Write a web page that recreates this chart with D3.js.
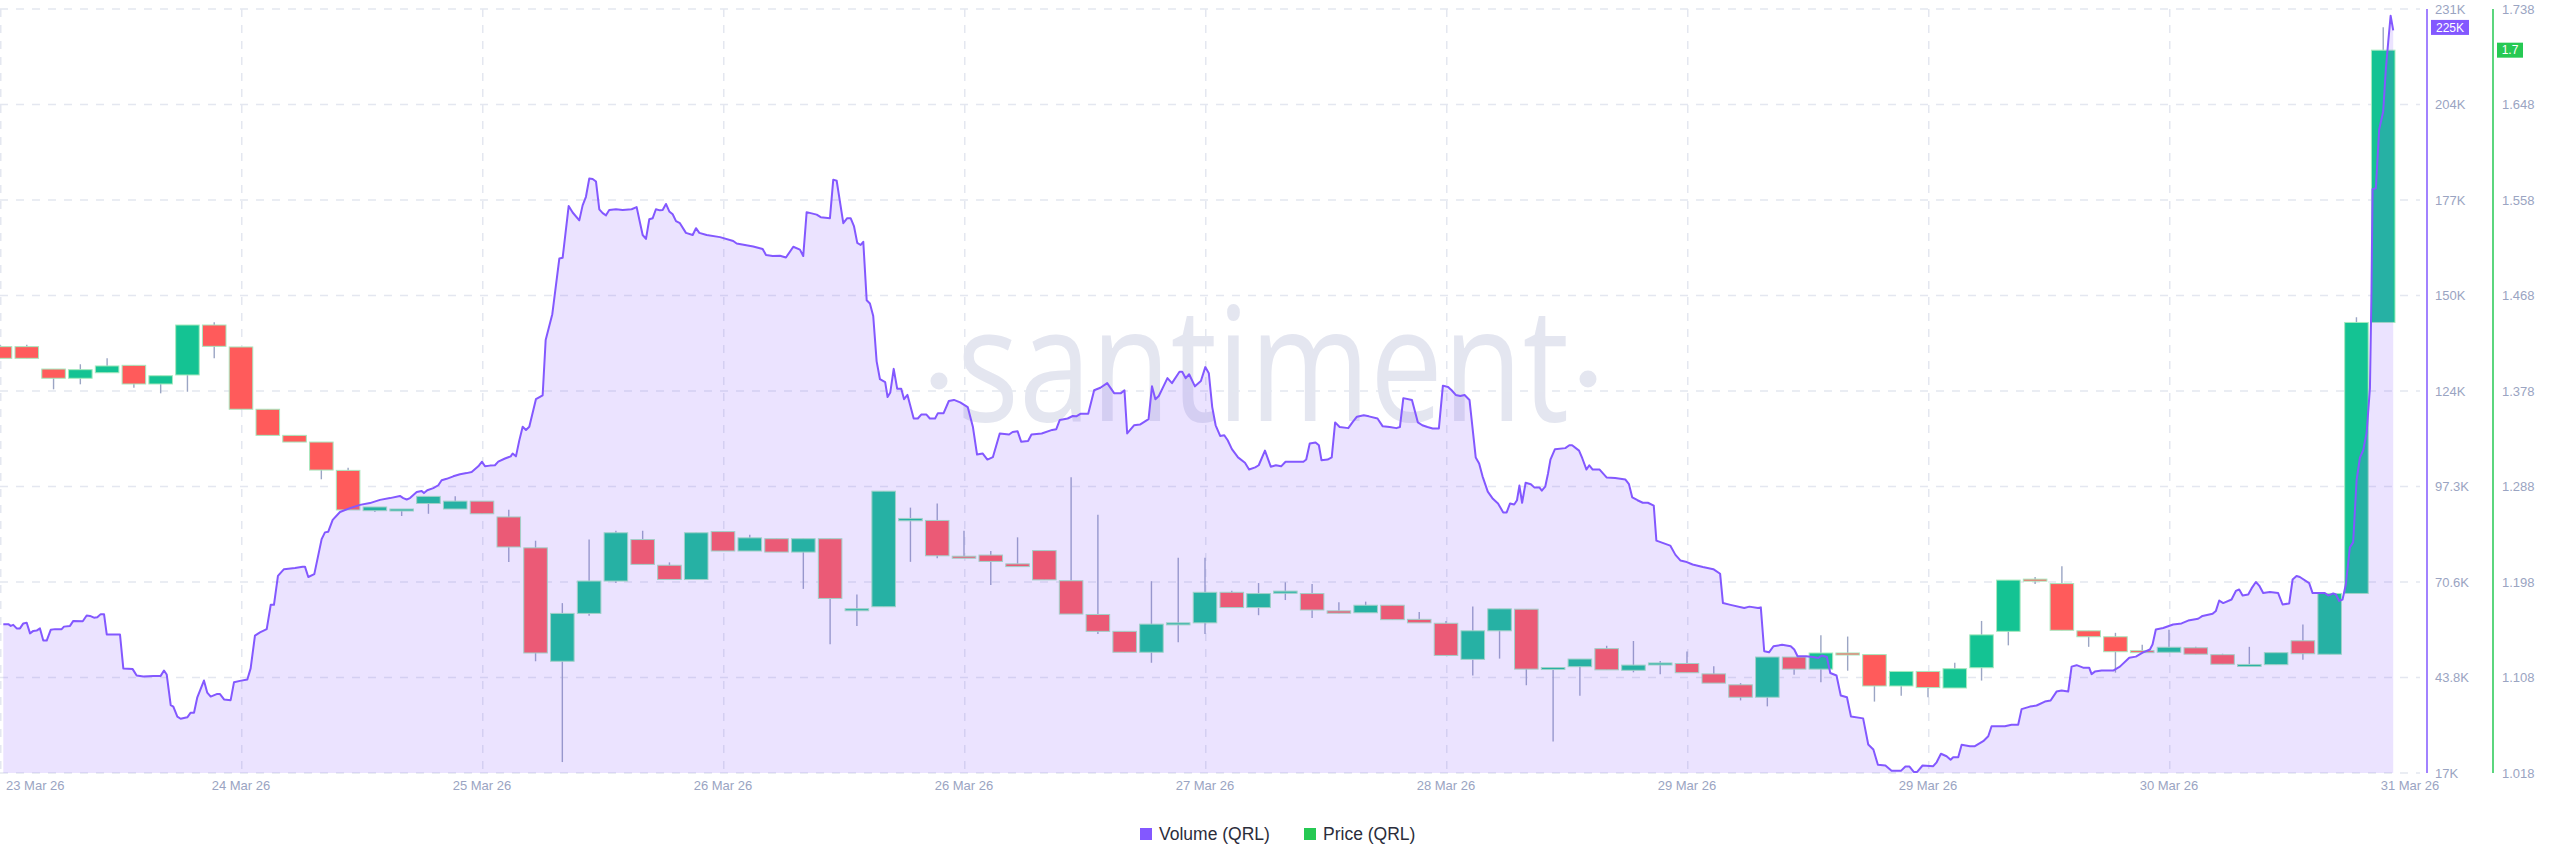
<!DOCTYPE html>
<html>
<head>
<meta charset="utf-8">
<script src="https://cdn.jsdelivr.net/npm/d3@7"></script>
<style>
  html, body { margin: 0; padding: 0; background: #fff; }
  svg { display: block; }
</style>
</head>
<body>
<svg id="chart" width="2560" height="867"></svg>
<script>
// x-axis day labels, as printed on the chart (one per 24h from 23 Mar 00:00)
const dayLabels = ['23 Mar 26', '24 Mar 26', '25 Mar 26', '26 Mar 26', '26 Mar 26', '27 Mar 26',
  '28 Mar 26', '29 Mar 26', '29 Mar 26', '30 Mar 26', '31 Mar 26'];

// y ticks
const volumeTickLabels = ['17K', '43.8K', '70.6K', '97.3K', '124K', '150K', '177K', '204K', '231K'];
const priceTickLabels = ['1.018', '1.108', '1.198', '1.288', '1.378', '1.468', '1.558', '1.648', '1.738'];

// price candles (QRL), one every 160 minutes
const candleStepHours = 8 / 3;
const candleOpen = [
  1.4198, 1.4198, 1.3987, 1.3900, 1.3952, 1.4022, 1.3846, 1.3931, 1.4402, 1.4195,
  1.3608, 1.3362, 1.3299, 1.3032, 1.2652, 1.2652, 1.2720, 1.2668, 1.2742, 1.2593,
  1.2302, 1.1233, 1.1684, 1.1989, 1.2380, 1.2138, 1.2004, 1.2455, 1.2272, 1.2388,
  1.2262, 1.2388, 1.1710, 1.1747, 1.2557, 1.2560, 1.2223, 1.2234, 1.2151, 1.2276,
  1.1992, 1.1674, 1.1515, 1.1318, 1.1583, 1.1595, 1.1883, 1.1739, 1.1874, 1.1871,
  1.1708, 1.1690, 1.1761, 1.1628, 1.1591, 1.1251, 1.1520, 1.1724, 1.1159, 1.1182,
  1.1352, 1.1148, 1.1201, 1.1212, 1.1114, 1.1011, 1.0894, 1.1273, 1.1159, 1.1311,
  1.1296, 1.1000, 1.1137, 1.0981, 1.1172, 1.1515, 1.2007, 1.1965, 1.1520, 1.1464,
  1.1333, 1.1318, 1.1360, 1.1295, 1.1203, 1.1201, 1.1426, 1.1299, 1.1872, 1.4426
];
const candleHigh = [
  1.4215, 1.4215, 1.3987, 1.4032, 1.4088, 1.4022, 1.3924, 1.4402, 1.4427, 1.4195,
  1.3608, 1.3362, 1.3299, 1.3057, 1.2687, 1.2668, 1.2787, 1.2787, 1.2742, 1.2660,
  1.2369, 1.1781, 1.2380, 1.2463, 1.2463, 1.2165, 1.2444, 1.2455, 1.2426, 1.2388,
  1.2388, 1.2388, 1.1863, 1.2836, 1.2681, 1.2719, 1.2462, 1.2272, 1.2401, 1.2276,
  1.2966, 1.2613, 1.1515, 1.1988, 1.2208, 1.2208, 1.1898, 1.1970, 1.1977, 1.1962,
  1.1788, 1.1795, 1.1761, 1.1697, 1.1613, 1.1750, 1.1727, 1.1724, 1.1178, 1.1254,
  1.1379, 1.1424, 1.1235, 1.1326, 1.1186, 1.1027, 1.1273, 1.1273, 1.1478, 1.1466,
  1.1296, 1.1137, 1.1137, 1.1219, 1.1613, 1.1998, 1.2027, 1.2129, 1.1520, 1.1501,
  1.1388, 1.1529, 1.1369, 1.1304, 1.1369, 1.1314, 1.1580, 1.1872, 1.4474, 1.7207
];
const candleLow = [
  1.4088, 1.4088, 1.3796, 1.3843, 1.3952, 1.3811, 1.3758, 1.3773, 1.4088, 1.3608,
  1.3362, 1.3299, 1.2948, 1.2659, 1.2640, 1.2602, 1.2623, 1.2668, 1.2623, 1.2168,
  1.1233, 1.0283, 1.1661, 1.1971, 1.2146, 1.2004, 1.2004, 1.2272, 1.2272, 1.2262,
  1.1915, 1.1393, 1.1565, 1.1747, 1.2170, 1.2204, 1.2212, 1.1951, 1.2125, 1.2000,
  1.1678, 1.1489, 1.1318, 1.1219, 1.1413, 1.1489, 1.1739, 1.1667, 1.1810, 1.1641,
  1.1686, 1.1690, 1.1625, 1.1595, 1.1288, 1.1099, 1.1258, 1.1007, 1.0478, 1.0909,
  1.1152, 1.1129, 1.1110, 1.1125, 1.1027, 1.0864, 1.0808, 1.1106, 1.1035, 1.1144,
  1.0853, 1.0909, 1.0894, 1.0981, 1.1051, 1.1383, 1.1960, 1.1525, 1.1369, 1.1126,
  1.1318, 1.1318, 1.1300, 1.1205, 1.1200, 1.1201, 1.1248, 1.1299, 1.1872, 1.4426
];
const candleClose = [
  1.4088, 1.4088, 1.3900, 1.3981, 1.4016, 1.3846, 1.3924, 1.4402, 1.4201, 1.3608,
  1.3362, 1.3299, 1.3035, 1.2659, 1.2687, 1.2668, 1.2787, 1.2742, 1.2623, 1.2310,
  1.1311, 1.1684, 1.1989, 1.2444, 1.2146, 1.2004, 1.2444, 1.2272, 1.2396, 1.2262,
  1.2388, 1.1825, 1.1728, 1.2836, 1.2579, 1.2227, 1.2212, 1.2174, 1.2125, 1.2000,
  1.1678, 1.1515, 1.1318, 1.1583, 1.1595, 1.1883, 1.1739, 1.1871, 1.1894, 1.1716,
  1.1686, 1.1761, 1.1625, 1.1595, 1.1288, 1.1520, 1.1727, 1.1159, 1.1174, 1.1254,
  1.1152, 1.1197, 1.1217, 1.1125, 1.1027, 1.0894, 1.1273, 1.1159, 1.1311, 1.1296,
  1.1000, 1.1137, 1.0985, 1.1163, 1.1482, 1.1998, 1.1989, 1.1525, 1.1464, 1.1323,
  1.1318, 1.1365, 1.1300, 1.1205, 1.1203, 1.1314, 1.1304, 1.1872, 1.4426, 1.6992
];

// volume (QRL), hours since 23 Mar 00:00 and value in thousands
const volumeHours = [
  0.33, 0.83, 1.07, 1.32, 1.66, 1.99, 2.32, 2.66, 2.99, 3.32, 3.65, 3.98, 4.31, 4.65, 5.05, 5.48,
  6.14, 6.37, 6.97, 7.30, 8.24, 8.63, 8.96, 9.36, 9.69, 10.03, 10.36, 10.63, 11.95, 12.28, 13.21, 13.61,
  14.27, 15.27, 16.00, 16.33, 16.60, 17.00, 17.26, 17.66, 17.99, 18.65, 18.99, 19.32, 19.65, 20.31, 20.64, 20.98,
  21.58, 21.91, 22.31, 22.97, 23.30, 23.90, 24.63, 24.96, 25.39, 25.89, 26.56, 26.96, 27.28, 27.68, 28.28, 29.38,
  30.14, 30.37, 30.70, 31.30, 32.03, 32.36, 32.69, 33.13, 33.86, 34.85, 35.85, 36.84, 37.84, 38.84,
  39.83, 40.16, 40.50, 40.83, 41.50, 41.99, 42.22, 42.55, 43.15, 43.65, 43.98, 44.48, 45.14, 45.81, 46.47, 46.97,
  47.63, 48.00, 48.30, 48.79, 49.29, 49.62, 50.29, 50.86, 51.05, 51.38, 51.71, 52.05, 52.38, 52.71, 53.37, 54.04,
  54.34, 55.00, 55.70, 56.03, 56.63, 57.03, 57.69, 58.02, 58.35, 58.68, 59.02, 59.35, 59.68, 60.02, 60.35, 60.67,
  61.34, 62.01, 62.90, 63.40, 63.66, 64.00, 64.33, 64.66, 65.00, 65.32, 65.72, 65.99, 66.32, 66.65, 66.99, 67.32,
  67.71, 68.31, 68.98, 69.31, 69.64, 70.37, 71.70, 73.02, 73.36, 75.01, 75.95, 76.28, 76.95, 77.67, 78.27, 79.00,
  79.66, 79.99, 80.33, 81.33, 81.73, 82.65, 82.98, 83.32, 83.98, 84.37, 84.71, 85.04, 85.37, 85.71, 85.97, 86.31,
  86.63, 86.96, 87.30, 87.63, 88.15, 88.39, 88.66, 89.00, 89.35, 89.75, 90.03, 90.37, 90.99, 91.40, 91.74, 92.26,
  92.60, 93.12, 93.40, 93.97, 94.49, 95.00, 95.62, 96.37, 96.89, 97.30, 97.85, 98.33, 98.88, 99.56, 100.49, 100.84,
  101.34, 101.69, 102.38, 102.72, 103.74, 104.78, 105.19, 105.54, 106.32, 106.83, 107.18, 107.59, 108.37, 108.96, 109.58, 110.26,
  110.95, 111.63, 111.98, 112.25, 112.93, 113.52, 114.38, 114.72, 115.06, 115.40, 116.26, 116.71, 117.46, 117.73, 118.08, 118.42,
  119.00, 119.59, 120.03, 120.38, 120.72, 121.06, 121.51, 121.92, 122.26, 122.68, 123.29, 123.98, 124.39, 125.00, 125.35, 125.97,
  126.55, 127.06, 127.58, 128.02, 128.78, 129.80, 130.08, 130.43, 131.01, 131.34, 131.60, 132.21, 132.62, 132.96, 133.41, 134.27,
  134.68, 135.13, 135.81, 136.32, 137.18, 137.70, 138.39, 139.06, 139.41, 139.75, 140.61, 141.20, 141.64, 142.15, 142.67, 143.29,
  143.69, 144.21, 144.56, 144.97, 145.42, 145.85, 146.34, 146.96, 147.30, 147.64, 148.16, 148.67, 149.18, 149.70, 150.04, 150.38,
  150.79, 151.07, 151.31, 151.58, 151.93, 152.45, 152.79, 153.30, 153.54, 153.88, 154.16, 154.40, 154.85, 155.88, 156.28, 156.56,
  157.25, 157.58, 157.99, 158.27, 158.61, 159.30, 159.99, 160.84, 161.87, 162.22, 162.55, 163.07, 163.59, 164.10, 164.69, 164.95,
  165.64, 166.33, 166.85, 167.36, 167.87, 168.56, 169.58, 170.62, 171.30, 171.58, 172.33, 173.70, 174.21, 175.07, 175.35, 175.69,
  176.17, 176.61, 177.47, 178.33, 178.68, 179.01, 179.87, 180.56, 181.07, 181.41, 181.93, 182.27, 182.89, 183.31, 183.93, 184.33,
  185.54, 186.05, 186.56, 187.01, 187.76, 188.37, 189.30, 189.75, 190.16, 190.58, 190.92, 191.46, 192.52, 192.86, 193.29, 193.85,
  194.25, 194.51, 195.01, 195.35, 196.17, 196.67, 197.50, 198.00, 198.33, 199.66, 200.32, 200.98, 201.32, 202.15, 202.81, 203.64,
  204.21, 204.80, 205.30, 205.96, 206.30, 206.80, 207.45, 208.05, 208.29, 208.62, 209.29, 210.44, 211.11, 212.04, 212.70, 213.37,
  214.10, 214.36, 214.69, 215.42, 216.41, 217.25, 217.91, 218.90, 219.34, 220.34, 220.67, 221.00, 221.40, 222.23, 222.66, 222.99,
  223.33, 223.89, 224.22, 224.65, 224.98, 225.38, 226.05, 226.87, 227.31, 227.97, 228.31, 228.70, 229.03, 229.96, 230.30, 231.52,
  231.86, 232.35, 232.62, 232.95, 233.28, 233.61, 234.01, 234.34, 234.68, 235.01, 235.34, 235.68, 236.01, 236.17, 236.27, 236.60,
  236.93, 237.33, 237.59, 237.83, 238.07, 238.33
];
const volumeK = [
  58.7, 58.7, 58.2, 58.5, 57.5, 57.5, 58.9, 59.1, 56.1, 56.8, 56.9, 57.5, 54.1, 54.1, 57.1, 57.3,
  57.3, 58.0, 58.2, 59.6, 59.5, 61.1, 61.0, 60.5, 60.6, 61.5, 61.5, 55.8, 55.8, 46.3, 46.1, 44.3,
  44.0, 44.2, 44.2, 45.7, 44.6, 36.0, 35.6, 32.8, 32.2, 32.6, 33.9, 33.9, 38.2, 42.9, 39.5, 38.4,
  39.1, 39.1, 37.6, 37.4, 42.4, 42.8, 43.2, 46.3, 55.5, 56.4, 57.3, 64.1, 64.1, 72.2, 74.1, 74.4,
  74.8, 74.8, 71.9, 72.7, 82.5, 84.4, 84.6, 87.9, 90.1, 91.2, 92.1, 92.6, 93.5, 94.0,
  94.6, 94.0, 93.6, 94.0, 95.7, 96.0, 95.4, 96.2, 96.8, 97.6, 99.0, 99.4, 100.1, 100.7, 101.0, 101.3,
  102.9, 104.2, 102.9, 103.1, 103.2, 104.2, 105.1, 105.7, 106.5, 105.7, 110.1, 114.0, 113.1, 114.0, 121.7, 122.8,
  138.3, 145.5, 161.1, 161.3, 175.8, 174.0, 171.8, 176.0, 178.4, 183.5, 183.4, 182.7, 174.9, 173.8, 173.2, 174.7,
  174.9, 174.7, 174.9, 175.5, 172.1, 167.7, 166.6, 172.1, 172.4, 174.9, 174.6, 174.7, 176.4, 174.3, 173.5, 171.6,
  171.0, 168.3, 167.7, 169.6, 168.3, 167.7, 167.1, 166.0, 165.3, 164.5, 163.8, 162.1, 161.8, 161.9, 161.4, 164.4,
  163.6, 161.8, 174.1, 173.4, 172.7, 172.4, 183.2, 182.9, 171.0, 172.4, 172.4, 170.2, 165.5, 164.9, 165.8, 149.4,
  148.5, 145.0, 132.3, 127.3, 126.5, 122.3, 123.6, 130.2, 124.6, 124.6, 121.7, 122.9, 116.3, 116.3, 117.4, 117.4,
  116.3, 116.3, 117.8, 117.8, 121.2, 121.5, 120.8, 119.5, 113.9, 106.2, 106.5, 104.8, 105.5, 112.1, 111.8, 112.5,
  112.7, 109.8, 110.0, 111.8, 112.1, 113.1, 113.3, 115.9, 116.3, 117.0, 116.9, 117.6, 117.6, 124.2, 124.9, 126.2,
  123.4, 123.4, 124.2, 112.1, 114.4, 114.6, 116.1, 125.3, 121.7, 122.6, 127.6, 126.2, 129.4, 129.4, 127.6, 128.7,
  125.3, 126.8, 130.7, 129.0, 119.5, 114.4, 111.4, 111.6, 110.2, 107.7, 105.4, 103.9, 102.0, 102.6, 103.2, 107.3,
  102.8, 103.2, 102.9, 104.2, 104.2, 104.2, 104.8, 109.3, 109.6, 108.8, 104.6, 104.8, 105.4, 115.2, 113.9, 113.6,
  115.2, 116.8, 117.2, 116.9, 116.3, 114.1, 113.9, 113.6, 113.9, 122.0, 121.5, 115.2, 114.4, 113.9, 113.5, 113.5,
  125.5, 125.1, 124.2, 122.9, 122.6, 122.9, 121.5, 105.4, 103.7, 100.1, 95.8, 93.8, 92.5, 90.0, 90.0, 92.5,
  92.2, 93.4, 97.5, 92.7, 98.3, 97.9, 97.0, 97.0, 96.1, 97.2, 100.9, 104.8, 107.7, 108.0, 108.8, 108.8,
  107.3, 105.1, 102.0, 103.2, 102.0, 102.0, 99.8, 99.6, 99.2, 97.9, 94.2, 93.4, 92.7, 92.7, 91.9, 82.1,
  81.4, 80.7, 78.1, 76.5, 76.2, 75.4, 74.7, 74.1, 72.8, 64.6, 64.1, 63.2, 63.6, 63.2, 63.4, 51.1,
  50.8, 52.5, 52.9, 52.5, 51.6, 49.7, 49.7, 49.5, 49.2, 49.9, 49.5, 45.0, 44.3, 38.7, 38.2, 32.8,
  32.3, 25.0, 23.6, 19.3, 19.1, 17.6, 17.6, 18.8, 18.8, 17.3, 17.3, 19.1, 18.9, 20.0, 22.4, 21.7,
  20.7, 21.4, 21.4, 24.9, 24.5, 24.5, 25.9, 27.3, 30.1, 30.1, 30.5, 30.5, 34.9, 35.6, 35.9, 37.0,
  37.3, 39.8, 40.1, 39.8, 46.8, 47.2, 46.5, 46.5, 44.7, 45.4, 45.7, 45.7, 46.8, 49.3, 49.6, 50.7,
  51.6, 53.0, 57.2, 57.6, 58.6, 58.9, 59.7, 60.2, 61.0, 61.6, 62.4, 65.3, 64.6, 65.6, 68.0, 68.4,
  66.7, 67.0, 68.7, 70.5, 69.5, 67.4, 67.7, 67.4, 64.2, 64.5, 71.2, 72.2, 71.9, 70.2, 67.4, 67.4,
  66.7, 67.3, 67.0, 65.2, 65.6, 69.8, 80.2, 81.6, 99.0, 105.3, 107.4, 112.3, 124.8, 152.7, 180.5, 180.8,
  197.3, 202.2, 214.0, 221.7, 229.1, 225.0
];

const volumeData = volumeHours.map((h, i) => ({ h, v: volumeK[i] * 1000 }));
const candles = candleOpen.map((o, i) => ({
  h: i * candleStepHours, o, hi: candleHigh[i], lo: candleLow[i], c: candleClose[i]
}));

// Dimensions
const width = 2560;
const height = 867;
const plotTop = 9;
const plotBottom = 773;
const volAxisX = 2427;
const priceAxisX = 2493;

const purple = '#8358ff';
const green = '#26c953';
const candleUp = '#14c393';
const candleDown = '#ff5b5b';
const tickColor = '#9aa4c2';
const gridColor = '#e4e7f0';

const svg = d3.select('#chart');

// Scales
const x = d3.scaleLinear().domain([0, 240]).range([0, 2410]);
const yVol = d3.scaleLinear().domain([17000, 231000]).range([plotBottom, plotTop]);
const yPrice = d3.scaleLinear().domain([1.018, 1.738]).range([plotBottom, plotTop]);

const volTicks = d3.range(volumeTickLabels.length).map(i => 17000 + i * (231000 - 17000) / 8);
const priceTicks = d3.range(priceTickLabels.length).map(i => 1.018 + i * 0.09);

// Watermark
const wm = svg.append('g').attr('fill', '#e4e6f0');
wm.append('text')
  .attr('x', 957)
  .attr('y', 421)
  .attr('textLength', 612)
  .attr('lengthAdjust', 'spacingAndGlyphs')
  .style('font-family', '"Open Sans", sans-serif')
  .style('font-size', '160px')
  .text('santiment');
wm.append('circle').attr('cx', 939).attr('cy', 381).attr('r', 8.5);
wm.append('circle').attr('cx', 1588).attr('cy', 379).attr('r', 8.5);

// Grid
svg.append('g')
  .selectAll('line')
  .data(volTicks)
  .join('line')
  .attr('x1', 0)
  .attr('x2', 2420)
  .attr('y1', d => yVol(d))
  .attr('y2', d => yVol(d))
  .attr('stroke', gridColor)
  .attr('stroke-width', 1.5)
  .attr('stroke-dasharray', '8,8');

svg.append('g')
  .selectAll('line')
  .data(d3.range(0, 10))
  .join('line')
  .attr('x1', d => x(d * 24) + 0.75)
  .attr('x2', d => x(d * 24) + 0.75)
  .attr('y1', plotTop)
  .attr('y2', plotBottom)
  .attr('stroke', gridColor)
  .attr('stroke-width', 1.5)
  .attr('stroke-dasharray', '8,8');

// Candles
const step = x(candleStepHours) - x(0);
const bodyW = step * 0.88;
const candleG = svg.append('g');

candleG.selectAll('line')
  .data(candles)
  .join('line')
  .attr('x1', d => x(d.h))
  .attr('x2', d => x(d.h))
  .attr('y1', d => yPrice(d.hi))
  .attr('y2', d => yPrice(d.lo))
  .attr('stroke', '#9ba5c4')
  .attr('stroke-width', 1.4);

candleG.selectAll('rect')
  .data(candles)
  .join('rect')
  .attr('x', d => x(d.h) - bodyW / 2)
  .attr('y', d => yPrice(Math.max(d.o, d.c)))
  .attr('width', bodyW)
  .attr('height', d => Math.max(2, Math.abs(yPrice(d.o) - yPrice(d.c))))
  .attr('fill', d => d.c >= d.o ? candleUp : candleDown)
  .attr('stroke', '#a6e9be')
  .attr('stroke-width', 1);

// Volume area + line
const area = d3.area()
  .x(d => x(d.h))
  .y0(plotBottom)
  .y1(d => yVol(d.v));

svg.append('path')
  .datum(volumeData)
  .attr('fill', purple)
  .attr('fill-opacity', 0.165)
  .attr('d', area);

const line = d3.line()
  .x(d => x(d.h))
  .y(d => yVol(d.v));

svg.append('path')
  .datum(volumeData)
  .attr('fill', 'none')
  .attr('stroke', purple)
  .attr('stroke-width', 2)
  .attr('stroke-linejoin', 'round')
  .attr('d', line);

// Right axes
svg.append('line')
  .attr('x1', volAxisX).attr('x2', volAxisX)
  .attr('y1', plotTop).attr('y2', plotBottom)
  .attr('stroke', purple).attr('stroke-width', 1.5);

svg.append('line')
  .attr('x1', priceAxisX).attr('x2', priceAxisX)
  .attr('y1', plotTop).attr('y2', plotBottom)
  .attr('stroke', green).attr('stroke-width', 1.5);

svg.append('g')
  .selectAll('text')
  .data(volTicks)
  .join('text')
  .attr('x', volAxisX + 8)
  .attr('y', d => yVol(d))
  .attr('dy', '0.35em')
  .attr('fill', tickColor)
  .style('font-family', '"Liberation Sans", Arial, sans-serif')
  .style('font-size', '13px')
  .text((d, i) => volumeTickLabels[i]);

svg.append('g')
  .selectAll('text')
  .data(priceTicks)
  .join('text')
  .attr('x', priceAxisX + 9)
  .attr('y', d => yPrice(d))
  .attr('dy', '0.35em')
  .attr('fill', tickColor)
  .style('font-family', '"Liberation Sans", Arial, sans-serif')
  .style('font-size', '13px')
  .text((d, i) => priceTickLabels[i]);

// X axis labels
svg.append('g')
  .selectAll('text')
  .data(dayLabels)
  .join('text')
  .attr('x', (d, i) => i === 0 ? 6 : x(i * 24))
  .attr('y', 790)
  .attr('text-anchor', (d, i) => i === 0 ? 'start' : 'middle')
  .attr('fill', tickColor)
  .style('font-family', '"Liberation Sans", Arial, sans-serif')
  .style('font-size', '13px')
  .text(d => d);

// Last value badges
const lastVol = volumeData[volumeData.length - 1].v;
const lastPrice = candles[candles.length - 1].c;

const volBadge = svg.append('g').attr('transform', `translate(${volAxisX + 4},${yVol(lastVol) - 3})`);
volBadge.append('rect').attr('x', 0).attr('y', -7.5).attr('width', 38).attr('height', 15).attr('fill', purple);
volBadge.append('text')
  .attr('x', 19).attr('y', 0).attr('dy', '0.35em')
  .attr('text-anchor', 'middle')
  .attr('fill', '#fff')
  .style('font-family', '"Liberation Sans", Arial, sans-serif')
  .style('font-size', '12px')
  .text(d3.format('.0f')(lastVol / 1000) + 'K');

const priceBadge = svg.append('g').attr('transform', `translate(${priceAxisX + 4},${yPrice(lastPrice)})`);
priceBadge.append('rect').attr('x', 0).attr('y', -7.5).attr('width', 26).attr('height', 15).attr('fill', green);
priceBadge.append('text')
  .attr('x', 13).attr('y', 0).attr('dy', '0.35em')
  .attr('text-anchor', 'middle')
  .attr('fill', '#fff')
  .style('font-family', '"Liberation Sans", Arial, sans-serif')
  .style('font-size', '12px')
  .text(d3.format('.1f')(lastPrice));

// Legend
const legendItems = [
  { label: 'Volume (QRL)', color: purple, x: 1140 },
  { label: 'Price (QRL)', color: green, x: 1304 }
];
const legend = svg.append('g').attr('transform', 'translate(0,834)');
legendItems.forEach(item => {
  legend.append('rect')
    .attr('x', item.x).attr('y', -6)
    .attr('width', 12).attr('height', 12)
    .attr('fill', item.color);
  legend.append('text')
    .attr('x', item.x + 19).attr('y', 0).attr('dy', '0.35em')
    .attr('fill', '#2b2d3b')
    .style('font-family', '"Liberation Sans", Arial, sans-serif')
    .style('font-size', '17.5px')
    .text(item.label);
});
</script>
</body>
</html>
